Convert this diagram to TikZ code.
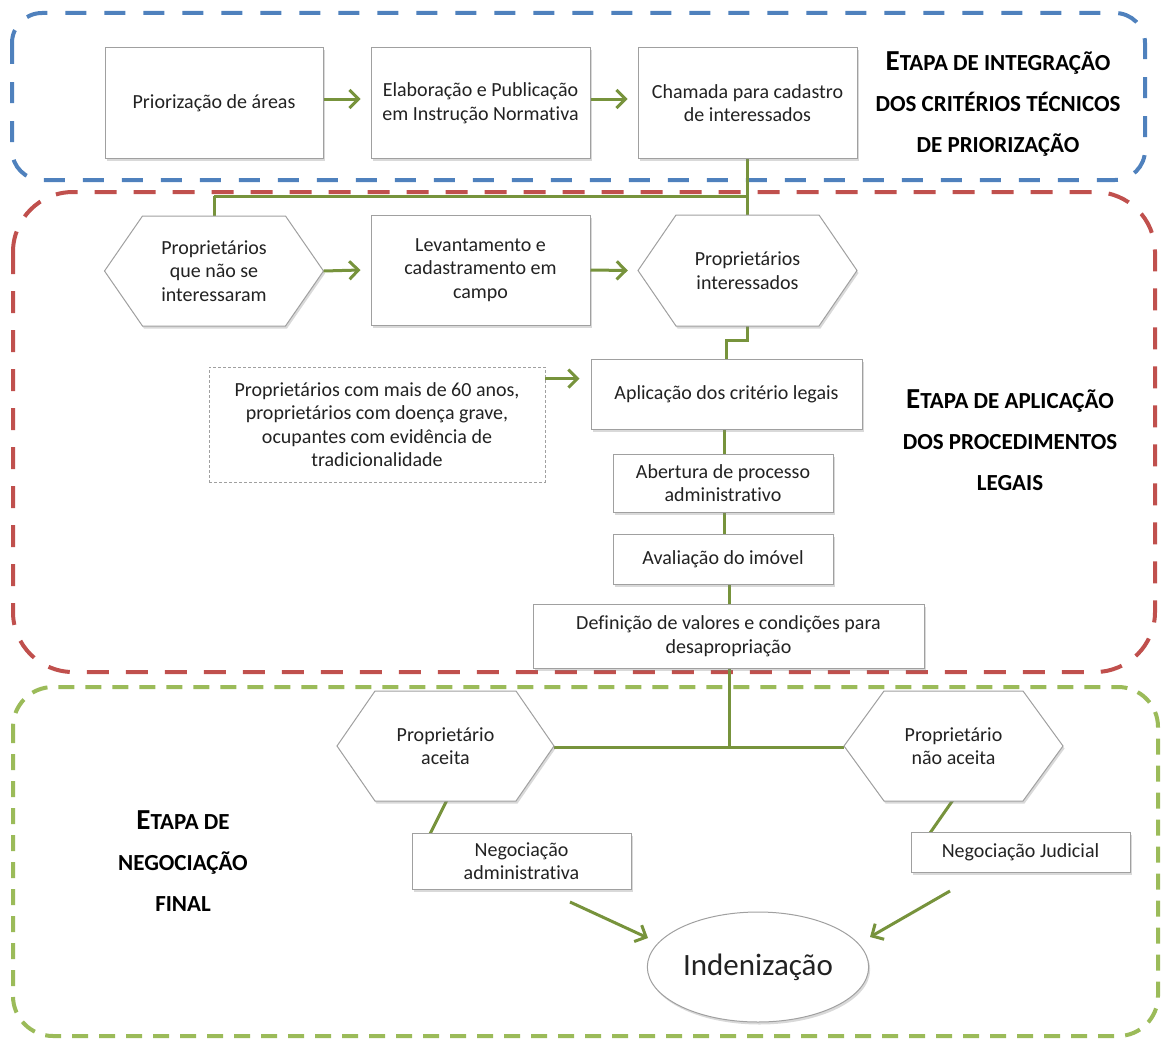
\documentclass[tikz,border=0pt]{standalone}
\usepackage{fontspec}
\setmainfont{Carlito}[Ligatures=NoCommon]
\usetikzlibrary{arrows.meta,calc,shadows,shapes.geometric}
\definecolor{cblue}{HTML}{4F81BD}
\definecolor{cred}{HTML}{C0504D}
\definecolor{cgreen}{HTML}{9BBB59}
\definecolor{connc}{HTML}{77933C}
\definecolor{bord}{HTML}{A0A0A0}
\definecolor{txtc}{HTML}{222222}
\newcommand\bodyfont{\fontsize{20}{23.5}\selectfont}
\newcommand\bigE[1]{{\fontsize{29}{41}\selectfont #1}}
\newcommand\hexat[7]{%
  \path[hexline] (#2-#4,#3) -- (#2-#4+#6,#3-#5) -- (#2+#4-#6,#3-#5) -- (#2+#4,#3)
     -- (#2+#4-#6,#3+#5) -- (#2-#4+#6,#3+#5) -- cycle;
  \node[hexn, minimum width=2*#4, minimum height=2*#5] (#1) at (#2,#3) {#7};}
\tikzset{
  pbox/.style={draw=bord, fill=white, line width=1pt, align=center, inner sep=2pt,
    text=txtc, font=\bodyfont,
    drop shadow={shadow xshift=1.5pt, shadow yshift=-2.5pt, opacity=0.3}},
  hexline/.style={draw=bord, fill=white, line width=1pt,
    drop shadow={shadow xshift=1.5pt, shadow yshift=-2.5pt, opacity=0.3}},
  hexn/.style={inner sep=0pt, align=center, text=txtc, font=\bodyfont},
  cline/.style={draw=connc, line width=3pt},
  arr/.style={cline, -{Straight Barb[length=9pt,width=18pt]}},
  zone/.style={line width=4pt},
  ttl/.style={align=center, font=\bfseries\fontsize{23}{41}\selectfont, text=black},
}
\begin{document}
\begin{tikzpicture}[x=1pt,y=-1pt]
\useasboundingbox (0,0) rectangle (1161,1041);
% zones
\draw[zone, cblue, dash pattern=on 21pt off 18pt, rounded corners=30pt] (12,13) rectangle (1145,180);
\draw[zone, cred, dash pattern=on 22pt off 17pt, rounded corners=60pt] (13,192) rectangle (1155,672);
\draw[zone, cgreen, dash pattern=on 16pt off 11pt, rounded corners=40pt] (13,687) rectangle (1158,1036);

\coordinate (jn) at (747.5,196);

% connectors drawn first (under shapes)
\draw[cline] (747.5,158) -- (747.5,216);
\draw[cline] (214,196) -- (jn);
\draw[cline] (214,196) -- (214,217);
\draw[cline] (747.5,325) -- (747.5,340) -| (726.5,360);
\draw[cline] (724,429) -- (724,455);
\draw[cline] (724,512) -- (724,535);
\draw[cline] (729.5,584) -- (729.5,605);
\draw[cline] (729.5,668) -- (729.5,747);
\draw[cline] (554,747) -- (844,747);
\draw[cline] (447,800) -- (430,834);
\draw[cline] (953,800) -- (930,833);

% row 1
\node[pbox, minimum width=218, minimum height=110] (b1) at (214,103) {Priorização de áreas};
\node[pbox, minimum width=219, minimum height=110] (b2) at (480.5,103) {Elaboração e Publicação\\em Instrução Normativa};
\node[pbox, minimum width=219, minimum height=110] (b3) at (747.5,103) {Chamada para cadastro\\de interessados};
\draw[arr] ([yshift=4pt]b1.east) -- ([yshift=4pt,xshift=-10pt]b2.west);
\draw[arr] ([yshift=4pt]b2.east) -- ([yshift=4pt,xshift=-10pt]b3.west);

% row 2
\hexat{h1}{214}{271}{109.5}{55}{38}{Proprietários\\que não se\\interessaram}
\node[pbox, minimum width=219, minimum height=110] (lev) at (480.5,270) {Levantamento e\\cadastramento em\\campo};
\hexat{h2}{747.5}{270.5}{109.5}{55.5}{38}{Proprietários\\interessados}
\draw[arr] (h1.east) -- ([xshift=-10pt]lev.west);
\draw[arr] (lev.east) -- ([xshift=-10pt]h2.west);

% legal procedures
\node[pbox, minimum width=271, minimum height=70] (apl) at (726.5,394) {Aplicação dos critério legais};
\node[draw=bord, dash pattern=on 3pt off 2pt, line width=0.8pt, align=center, text=txtc,
      font=\bodyfont, minimum width=336, minimum height=115, inner sep=2pt] (dbox) at (377,424.5)
      {Proprietários com mais de 60 anos,\\proprietários com doença grave,\\ocupantes com evidência de\\tradicionalidade};
\draw[arr] ([yshift=-12pt]dbox.north east) -- ($(dbox.north east -| apl.west)+(-11,12)$);
\node[pbox, minimum width=220, minimum height=58] (abe) at (723,483) {Abertura de processo\\administrativo};
\node[pbox, minimum width=220, minimum height=50] (ava) at (723,559) {Avaliação do imóvel};
\node[pbox, minimum width=391, minimum height=64] (def) at (728.5,636) {Definição de valores e condições para\\desapropriação};

% final negotiation
\hexat{h3}{445.5}{746}{108.5}{55}{38}{Proprietário\\aceita}
\hexat{h4}{953.5}{746}{109.5}{55}{40}{Proprietário\\não aceita}
\node[pbox, minimum width=219, minimum height=56] (na) at (521.5,861) {Negociação\\administrativa};
\node[pbox, minimum width=219, minimum height=40] (nj) at (1020.5,852) {Negociação Judicial};
\node[ellipse, draw=bord, fill=white, line width=1pt, minimum width=220, minimum height=110,
      text=txtc, font=\fontsize{31}{34}\selectfont,
      drop shadow={shadow xshift=1.5pt, shadow yshift=-2.5pt, opacity=0.3}] (ind) at (758,967) {Indenização};
\coordinate (a1s) at (570,902);
\coordinate (a1e) at ($(ind.center)+(-110,-29)$);
\coordinate (a2s) at (950,891);
\coordinate (a2e) at ($(ind.center)+(112,-30)$);
\draw[arr] (a1s) -- (a1e);
\draw[arr] (a2s) -- (a2e);

% titles
\node[ttl] (t1) at (998,104) {\bigE{E}TAPA DE INTEGRAÇÃO\\DOS CRITÉRIOS TÉCNICOS\\DE PRIORIZAÇÃO};
\node[ttl] (t2) at (1010,440) {\bigE{E}TAPA DE APLICAÇÃO\\DOS PROCEDIMENTOS\\LEGAIS};
\node[ttl] (t3) at (183,861) {\bigE{E}TAPA DE\\NEGOCIAÇÃO\\FINAL};
\end{tikzpicture}
\end{document}
